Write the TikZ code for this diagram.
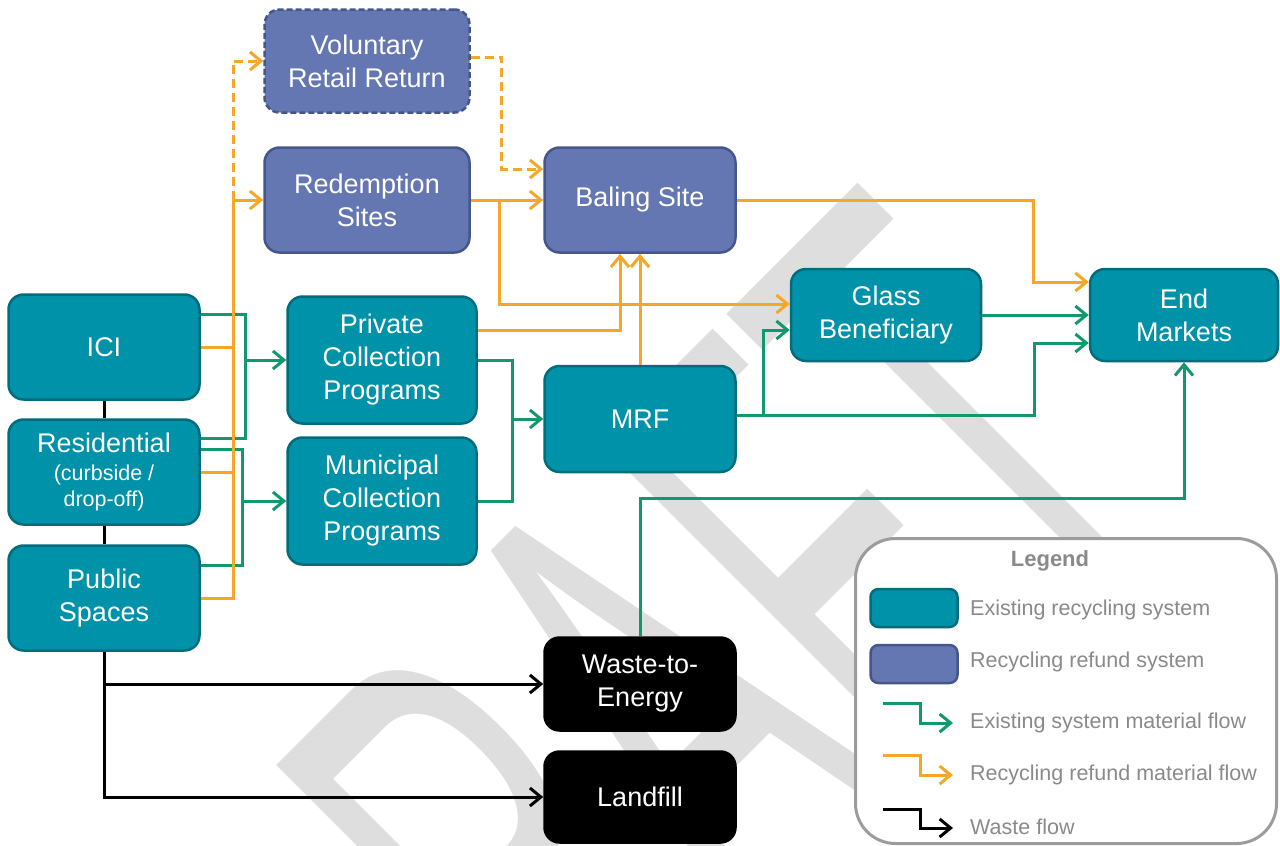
\documentclass[tikz,border=0pt]{standalone}
\usepackage{fontspec}
\setmainfont{Liberation Sans}
\usetikzlibrary{arrows.meta}

\definecolor{tealfill}{HTML}{0092A8}
\definecolor{tealdraw}{HTML}{006C7C}
\definecolor{bluefill}{HTML}{6577B3}
\definecolor{bluedraw}{HTML}{46568A}
\definecolor{greenline}{HTML}{13976F}
\definecolor{orangeline}{HTML}{F7A628}
\definecolor{legendgray}{HTML}{8A8A8A}
\definecolor{legendborder}{HTML}{9C9C9C}
\definecolor{markgray}{HTML}{DEDEDE}

\begin{document}
\begin{tikzpicture}[x=1pt, y=-1pt]

		% Define styles
		\tikzstyle{existing} = [
		rectangle, rounded corners=15pt, minimum width=191pt,
		minimum height=105pt, text centered, draw=tealdraw,
		fill=tealfill, line width=2.5pt, text=white, align=center,
		font=\fontsize{27}{33}\selectfont]
		\tikzstyle{refund} = [existing, draw=bluedraw, fill=bluefill]
		\tikzstyle{waste} = [existing, draw=black, fill=black]
		\tikzstyle{arrow} = [-{Straight Barb[length=11pt,width=18pt]}]
		\tikzstyle{greenflow} = [draw=greenline, line width=3pt]
		\tikzstyle{orangeflow} = [draw=orangeline, line width=3pt]
		\tikzstyle{wasteflow} = [draw=black, line width=3pt]
		\tikzstyle{legendtext} = [anchor=west, inner sep=0pt,
		text=legendgray, font=\fontsize{21.5}{26}\selectfont]

		\useasboundingbox (0,0) rectangle (1280,846);

		% Watermark
		\node (draft) [rotate=45, inner sep=0pt, text=markgray,
		font=\fontsize{670}{670}\selectfont] at (640,728)
		{\scalebox{0.49}[1]{DRAFT}};

		% Nodes
		\node (voluntary) [refund, dashed, dash pattern=on 6pt off 3pt,
		minimum width=205pt, minimum height=103pt] at (367,61)
		{Voluntary\\Retail Return};
		\node (redemption) [refund, minimum width=205pt] at (367,200)
		{Redemption\\Sites};
		\node (baling) [refund] at (640,200) {Baling Site};

		\node (ici) [existing] at (104,347) {ICI};
		\node (res) [existing] at (104,472) {
			Residential\\[-5pt]
			{\fontsize{21.5}{26}\selectfont (curbside /}\\[-7pt]
			{\fontsize{21.5}{26}\selectfont drop-off)}
		};
		\node (pub) [existing] at (104,598) {Public\\Spaces};

		\node (private) [existing, minimum width=189pt, minimum height=127pt]
		at (382,360) {Private\\Collection\\Programs};
		\node (municipal) [existing, minimum width=189pt, minimum height=127pt]
		at (382,501) {Municipal\\Collection\\Programs};

		\node (mrf) [existing, minimum height=106pt] at (640,419) {MRF};
		\node (glass) [existing, minimum width=190pt, minimum height=92pt]
		at (886,315) {Glass\\Beneficiary};
		\node (endm) [existing, minimum width=188pt, minimum height=92pt]
		at (1184,315) {End\\Markets};

		\node (w2e) [waste, minimum height=93pt] at (640,684) {Waste-to-\\Energy};
		\node (landfill) [waste, minimum height=91pt] at (640,797) {Landfill};

		% Legend
		\node (legend) [draw=legendborder, fill=white, line width=3pt,
		rounded corners=40pt, minimum width=421pt, minimum height=305pt]
		at (1066,691) {};
		\node (legendtitle) [text=legendgray,
		font=\fontsize{22}{26}\selectfont\bfseries] at (1050,561) {Legend};
		\node (swatchold) [existing, rounded corners=8pt, minimum width=87pt,
		minimum height=38pt] at (914,608) {};
		\node (swatchnew) [refund, rounded corners=8pt, minimum width=87pt,
		minimum height=38pt] at (914,664) {};
		\node (textold) [legendtext] at (970,610) {Existing recycling system};
		\node (textnew) [legendtext] at (970,662) {Recycling refund system};
		\node (textgreen) [legendtext] at (970,723) {Existing system material flow};
		\node (textorange) [legendtext] at (970,775) {Recycling refund material flow};
		\node (textwaste) [legendtext] at (970,827) {Waste flow};
		\coordinate (keygreen) at (883,703);
		\coordinate (keyorange) at (883,755);
		\coordinate (keywaste) at (883,809);
		\draw [greenflow, arrow] (keygreen) -- ++(37,0) -- ++(0,20) -- ++(33,0);
		\draw [orangeflow, arrow] (keyorange) -- ++(37,0) -- ++(0,20) -- ++(33,0);
		\draw [wasteflow, arrow] (keywaste) -- ++(37,0) -- ++(0,19) -- ++(33,0);

		% Green arrows
		\coordinate (busprivate) at (245,360);
		\coordinate (busmunicipal) at (242,501);
		\coordinate (busmrf) at (512,419);
		\draw [greenflow] ([yshift=33pt]ici.east) -| (busprivate)
		|- ([yshift=34pt]res.east);
		\draw [greenflow, arrow] (busprivate) -- (private.west);
		\draw [greenflow] ([yshift=23pt]res.east) -| (busmunicipal)
		|- ([yshift=33pt]pub.east);
		\draw [greenflow, arrow] (busmunicipal) -- (municipal.west);
		\draw [greenflow] (private.east) -| (busmrf) |- (municipal.east);
		\draw [greenflow, arrow] (busmrf) -- (mrf.west);
		\draw [greenflow, arrow] ([yshift=4pt]mrf.east) -- ++(27,0)
		|- ([yshift=-15pt]glass.west);
		\draw [greenflow, arrow] ([yshift=4pt]mrf.east)
		-| ([xshift=-54pt,yshift=-28pt]endm.west) -- ([yshift=-28pt]endm.west);
		\draw [greenflow, arrow] (glass.east) -- (endm.west);
		\draw [greenflow, arrow] (w2e.north) |- ([yshift=-136pt]endm.south)
		-- (endm.south);

		% Orange arrows
		\coordinate (busredeem) at (233,200);
		\coordinate (busglass) at (499,200);
		\draw [orangeflow] (pub.east) -| (busredeem);
		\draw [orangeflow] (ici.east) -- (ici.east -| busredeem);
		\draw [orangeflow] (res.east) -- (res.east -| busredeem);
		\draw [orangeflow, arrow] (busredeem) -- (redemption.west);
		\draw [orangeflow, arrow, dashed, dash pattern=on 9pt off 5pt]
		(busredeem) |- (voluntary.west);
		\draw [orangeflow, arrow, dashed, dash pattern=on 9pt off 5pt]
		([yshift=4pt]voluntary.east) -- ++(31,0) |- ([yshift=31pt]baling.west);
		\draw [orangeflow, arrow] (redemption.east) -- (baling.west);
		\draw [orangeflow, arrow] (busglass) |- ([yshift=11pt]glass.west);
		\draw [orangeflow, arrow] ([yshift=30pt]private.east)
		-| ([xshift=-20pt]baling.south);
		\draw [orangeflow, arrow] (mrf.north) -- (baling.south);
		\draw [orangeflow, arrow] (baling.east) -- ++(297,0)
		|- ([yshift=33pt]endm.west);

		% Waste arrows
		\draw [wasteflow] (ici.south) -- (res.north);
		\draw [wasteflow] (res.south) -- (pub.north);
		\draw [wasteflow, arrow] (pub.south) |- (landfill.west);
		\draw [wasteflow, arrow] (pub.south |- w2e.west) -- (w2e.west);
	\end{tikzpicture}
\end{document}
